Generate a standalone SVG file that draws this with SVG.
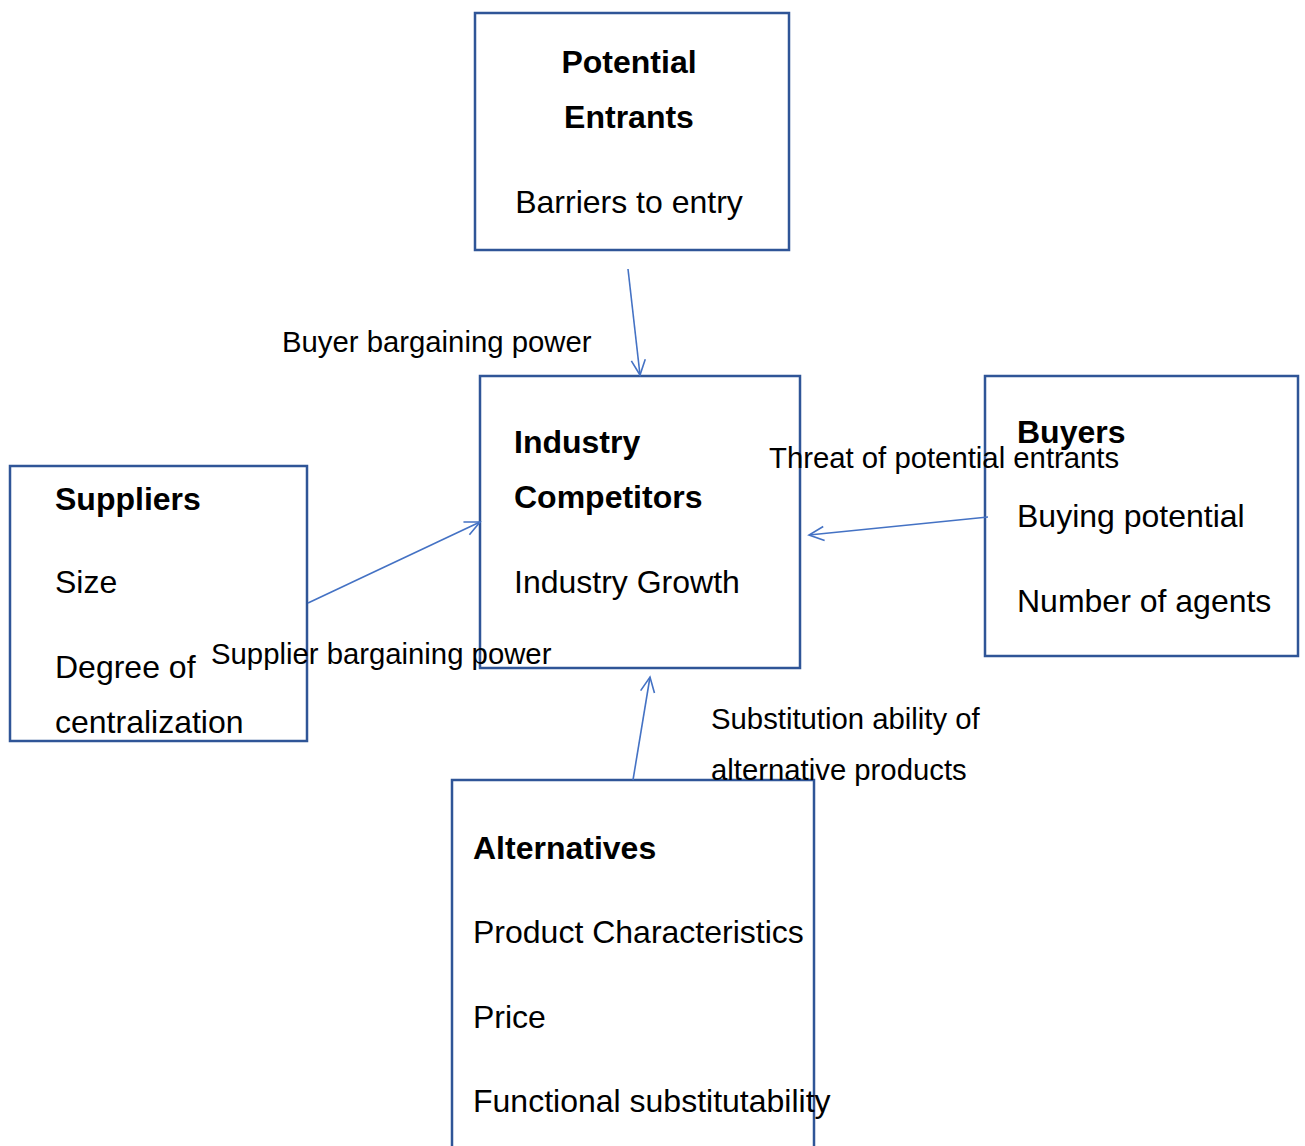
<svg xmlns="http://www.w3.org/2000/svg" width="1305" height="1146" viewBox="0 0 1305 1146">
<defs>
<style>
.box{fill:#fff;stroke:#2F5597;stroke-width:2.5}
.t{font-family:"Liberation Sans",Arial,sans-serif;font-size:32px;fill:#000}
.b{font-weight:bold}
.lbl{font-family:"Liberation Sans",Arial,sans-serif;font-size:29.3px;fill:#000}
.conn{stroke:#4472C4;stroke-width:1.6;fill:none}
</style>
<marker id="ah" markerUnits="userSpaceOnUse" markerWidth="30" markerHeight="30" refX="0" refY="0" viewBox="-20 -15 30 30" orient="auto" overflow="visible">
<path d="M-15,-7 L0,0 L-15,7" fill="none" stroke="#4472C4" stroke-width="1.6"/>
</marker>
</defs>
<rect width="1305" height="1146" fill="#fff"/>
<g id="potential-entrants">
<rect class="box" x="475" y="13" width="314" height="237"/>
<text class="t b" x="629" y="73" text-anchor="middle">Potential</text>
<text class="t b" x="629" y="128" text-anchor="middle">Entrants</text>
<text class="t" x="629" y="213" text-anchor="middle">Barriers to entry</text>
</g>
<g id="industry-competitors">
<rect class="box" x="480" y="376" width="320" height="292"/>
<text class="t b" x="514" y="453">Industry</text>
<text class="t b" x="514" y="508">Competitors</text>
<text class="t" x="514" y="593">Industry Growth</text>
</g>
<g id="buyers">
<rect class="box" x="985" y="376" width="313" height="280"/>
<text class="t b" x="1017" y="443">Buyers</text>
<text class="t" x="1017" y="527">Buying potential</text>
<text class="t" x="1017" y="612">Number of agents</text>
</g>
<g id="suppliers">
<rect class="box" x="10" y="466" width="297" height="275"/>
<text class="t b" x="55" y="510">Suppliers</text>
<text class="t" x="55" y="593">Size</text>
<text class="t" x="55" y="678">Degree of</text>
<text class="t" x="55" y="733">centralization</text>
</g>
<g id="alternatives">
<rect class="box" x="452" y="780" width="362" height="400"/>
<text class="t b" x="473" y="859">Alternatives</text>
<text class="t" x="473" y="943">Product Characteristics</text>
<text class="t" x="473" y="1028">Price</text>
<text class="t" x="473" y="1112">Functional substitutability</text>
</g>
<g id="connectors">
<line class="conn" x1="628" y1="269" x2="640" y2="375" marker-end="url(#ah)"/>
<line class="conn" x1="308" y1="603" x2="480" y2="522" marker-end="url(#ah)"/>
<line class="conn" x1="988" y1="517" x2="809" y2="535" marker-end="url(#ah)"/>
<line class="conn" x1="633" y1="780" x2="650" y2="677" marker-end="url(#ah)"/>
</g>
<g id="labels">
<text class="lbl" x="282" y="352">Buyer bargaining power</text>
<text class="lbl" x="769" y="468">Threat of potential entrants</text>
<text class="lbl" x="211" y="664">Supplier bargaining power</text>
<text class="lbl" x="711" y="729">Substitution ability of</text>
<text class="lbl" x="711" y="780">alternative products</text>
</g>
</svg>
